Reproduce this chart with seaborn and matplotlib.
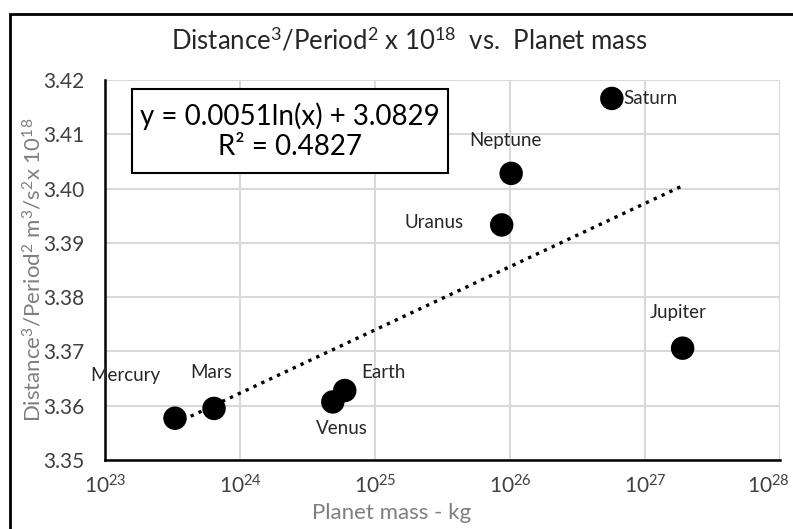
import matplotlib
matplotlib.use("Agg")
import matplotlib.pyplot as plt
import matplotlib.ticker as mticker
import matplotlib.transforms as mtransforms
from matplotlib.patches import Rectangle
import seaborn as sns
import pandas as pd
import numpy as np

# data
planets = ["Mercury", "Venus", "Earth", "Mars", "Jupiter", "Saturn", "Uranus", "Neptune"]
mass_kg = [3.30e23, 4.87e24, 5.97e24, 6.42e23, 1.90e27, 5.68e26, 8.68e25, 1.02e26]
kepler_ratio = [3.3577, 3.3607, 3.3628, 3.3595, 3.3706, 3.4166, 3.3933, 3.4028]

# label offsets (points) relative to each marker
label_offsets = {
    "Mercury": (-61, 31), "Venus": (-12, -19), "Earth": (12, 13), "Mars": (-17, 26),
    "Jupiter": (-24, 26), "Saturn": (8, 0), "Uranus": (-70, 2), "Neptune": (-30, 24),
}

df = pd.DataFrame({"planet": planets, "mass": mass_kg, "ratio": kepler_ratio})

sns.set_style("white")
plt.rcParams["font.family"] = ["Lato", "DejaVu Sans"]
plt.rcParams["mathtext.fontset"] = "custom"
plt.rcParams["mathtext.rm"] = "Lato"
plt.rcParams["mathtext.it"] = "Lato:italic"
plt.rcParams["mathtext.bf"] = "Lato:bold"

fig = plt.figure(figsize=(7.93, 5.29), dpi=100)
ax = fig.add_axes([105 / 793, 1 - 460 / 529, 675 / 793, 380 / 529])

# log trendline fitted from the points
coef = np.polyfit(np.log(df["mass"]), df["ratio"], 1)
xs = np.logspace(np.log10(df["mass"].min()), np.log10(df["mass"].max()), 100)
ax.plot(xs, coef[0] * np.log(xs) + coef[1], color="black", linestyle=(0, (1, 1.6)), lw=2.4, zorder=2)

sns.scatterplot(data=df, x="mass", y="ratio", color="black", s=285, edgecolor="none", ax=ax, zorder=3)

for _, r in df.iterrows():
    ax.annotate(r["planet"], (r["mass"], r["ratio"]), xytext=label_offsets[r["planet"]],
                textcoords="offset points", fontsize=13.5, color="#262626", va="center")

ax.set_xscale("log")
ax.set_xlim(1e23, 1e28)
ax.set_ylim(3.35, 3.42)
ax.yaxis.set_major_locator(mticker.MultipleLocator(0.01))
ax.yaxis.set_minor_locator(mticker.MultipleLocator(0.002))
ax.yaxis.set_major_formatter(mticker.FormatStrFormatter("%.2f"))
ax.xaxis.set_major_locator(mticker.FixedLocator([1e23, 1e24, 1e25, 1e26, 1e27, 1e28]))
ax.xaxis.set_minor_locator(mticker.LogLocator(base=10, subs=np.arange(2, 10), numticks=20))
ax.xaxis.set_minor_formatter(mticker.NullFormatter())
ax.xaxis.set_major_formatter(mticker.FuncFormatter(lambda v, p: r"$10^{%d}$" % round(np.log10(v))))

ax.grid(True, which="major", color="#d9d9d9", lw=1.5)
ax.set_axisbelow(True)
for side in ["top", "right"]:
    ax.spines[side].set_visible(False)
for side in ["left", "bottom"]:
    ax.spines[side].set_color("black")
    ax.spines[side].set_linewidth(1.8)
ax.tick_params(which="major", direction="inout", length=10, width=1.8, color="black",
               labelsize=15, labelcolor="#404040")
ax.tick_params(which="minor", direction="in", length=5, width=1.5, color="black")
ax.tick_params(axis="x", which="major", pad=5)
ax.tick_params(axis="y", which="major", pad=10)

# keep the last x tick label inside the chart, like the original
fig.canvas.draw()
last = ax.get_xticklabels()[-1]
last.set_transform(last.get_transform() + mtransforms.ScaledTranslation(-12 / 100, 0, fig.dpi_scale_trans))

ax.set_xlabel("Planet mass - kg", fontsize=16, color="#7f7f7f")
ax.xaxis.set_label_coords((392 - 105) / 675, -0.112)
ax.set_ylabel(r"Distance$^3$/Period$^2$ m$^3$/s$^2$x 10$^{18}$", fontsize=16, color="#7f7f7f")
ax.yaxis.set_label_coords((45 - 105) / 675, 0.5)

# trendline equation box
ax.add_patch(Rectangle((0.04, 0.755), 0.468, 0.221, transform=ax.transAxes,
                       fc="white", ec="black", lw=1.5, zorder=4))
ax.text(0.274, 0.866, "y = 0.0051ln(x) + 3.0829\nR² = 0.4827", transform=ax.transAxes,
        ha="center", va="center", fontsize=20, color="black", linespacing=1.2, zorder=5)

fig.text(410 / 793, 1 - 40 / 529, r"Distance$^3$/Period$^2$ x 10$^{18}$  vs.  Planet mass",
         ha="center", va="center", fontsize=18.5, color="#262626")

# outer chart border
fig.patches.append(Rectangle((10 / 793, -0.05), 1.0, 1 - 14 / 529 + 0.05, transform=fig.transFigure,
                             fill=False, ec="black", lw=2, clip_on=False))

fig.savefig("out.png", dpi=100)
